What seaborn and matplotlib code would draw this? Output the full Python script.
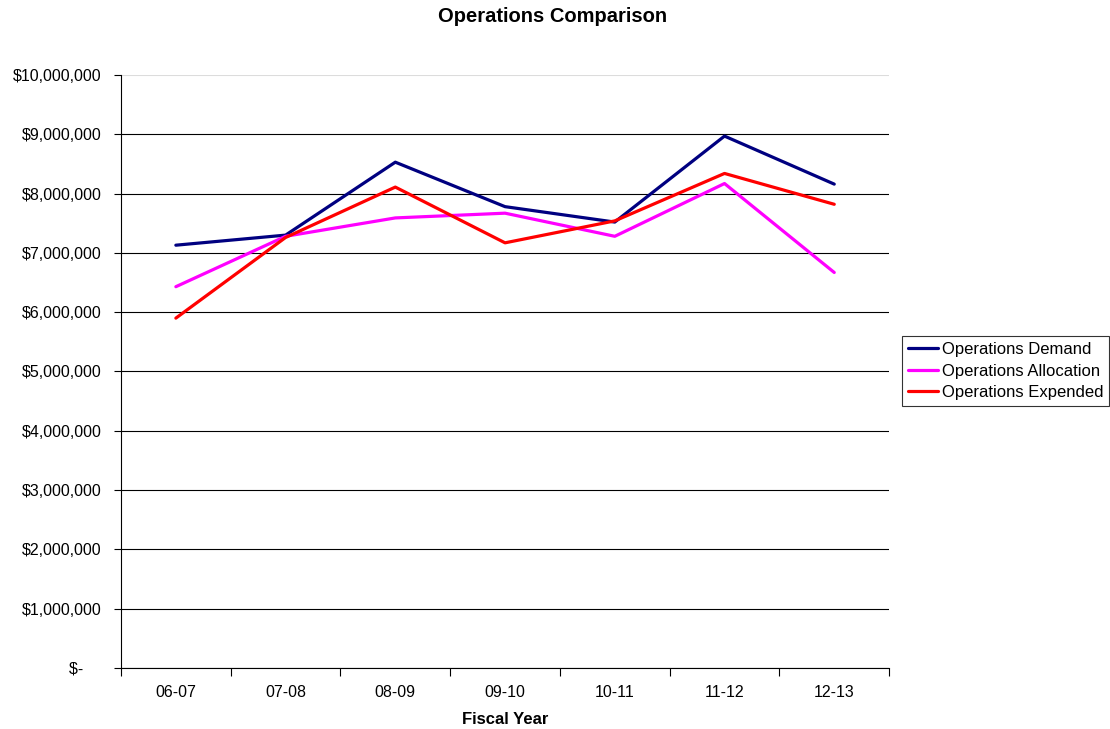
import matplotlib
matplotlib.use("Agg")
import matplotlib.pyplot as plt
from matplotlib.ticker import FixedLocator, FuncFormatter, NullFormatter
import seaborn as sns
import pandas as pd

years = ["06-07", "07-08", "08-09", "09-10", "10-11", "11-12", "12-13"]
demand = [7130000, 7300000, 8530000, 7780000, 7520000, 8970000, 8160000]
allocation = [6430000, 7280000, 7590000, 7670000, 7280000, 8170000, 6670000]
expended = [5900000, 7260000, 8110000, 7170000, 7540000, 8340000, 7820000]

series_names = ["Operations Demand", "Operations Allocation", "Operations Expended"]
series_colors = ["#000080", "#FF00FF", "#FF0000"]

rows = []
for name, values in zip(series_names, [demand, allocation, expended]):
    for yr, v in zip(years, values):
        rows.append({"Fiscal Year": yr, "Amount": v, "Series": name})
df = pd.DataFrame(rows)

sns.set_theme(style="white")
plt.rcParams["font.family"] = ["Liberation Sans", "DejaVu Sans"]
plt.rcParams["text.color"] = "black"
plt.rcParams["axes.labelcolor"] = "black"
plt.rcParams["xtick.color"] = "black"
plt.rcParams["ytick.color"] = "black"

fig = plt.figure(figsize=(11.1, 7.29), dpi=100)
ax = fig.add_axes([0.109, 0.0837, 0.692, 0.8134])

sns.lineplot(data=df, x="Fiscal Year", y="Amount", hue="Series",
             palette=dict(zip(series_names, series_colors)),
             linewidth=2.3, ax=ax, legend=True, sort=False)

ax.set_xlim(-0.5, len(years) - 0.5)
ax.set_ylim(0, 10000000)

# y axis: accounting-style $ ticks every million with gridlines
ax.set_yticks(range(0, 10000001, 1000000))
def money(v, pos):
    if v == 0:
        return "$-    "
    return "${:,.0f}".format(v)
ax.yaxis.set_major_formatter(FuncFormatter(money))
ax.grid(axis="y", color="#000000", linewidth=0.8)
ax.grid(axis="x", visible=False)
ax.set_axisbelow(True)
# topmost gridline is drawn faint
ax.get_ygridlines()[-1].set_color("#dcdcdc")

# x axis: labels centered on categories, tick marks between them
ax.set_xticks(range(len(years)))
ax.set_xticklabels(years)
ax.tick_params(axis="x", which="major", length=0, pad=12, labelsize=11.5)
ax.xaxis.set_minor_locator(FixedLocator([i - 0.5 for i in range(len(years) + 1)]))
ax.xaxis.set_minor_formatter(NullFormatter())
ax.tick_params(axis="x", which="minor", length=6, width=0.8, direction="out", bottom=True)
ax.tick_params(axis="y", length=5, width=0.8, direction="out", left=True, labelsize=11.5, pad=9)

for s in ["top", "right"]:
    ax.spines[s].set_visible(False)
for s in ["left", "bottom"]:
    ax.spines[s].set_color("black")
    ax.spines[s].set_linewidth(0.8)

ax.set_ylabel("")
ax.set_xlabel("Fiscal Year", fontsize=12, fontweight="bold", labelpad=9)

fig.text(0.4975, 1 - 17 / 729, "Operations Comparison", ha="center", va="center",
         fontsize=14.5, fontweight="bold")

handles, labels = ax.get_legend_handles_labels()
ax.legend_.remove()
leg = fig.legend(handles, labels, loc="center left", bbox_to_anchor=(0.8126, 0.491),
                 frameon=True, fancybox=False, shadow=False, fontsize=12,
                 handlelength=1.8, handletextpad=0.25, borderpad=0.35,
                 labelspacing=0.4, borderaxespad=0)
leg.get_frame().set_edgecolor("black")
leg.get_frame().set_linewidth(0.8)

fig.savefig("out.png", dpi=100, facecolor="white")
